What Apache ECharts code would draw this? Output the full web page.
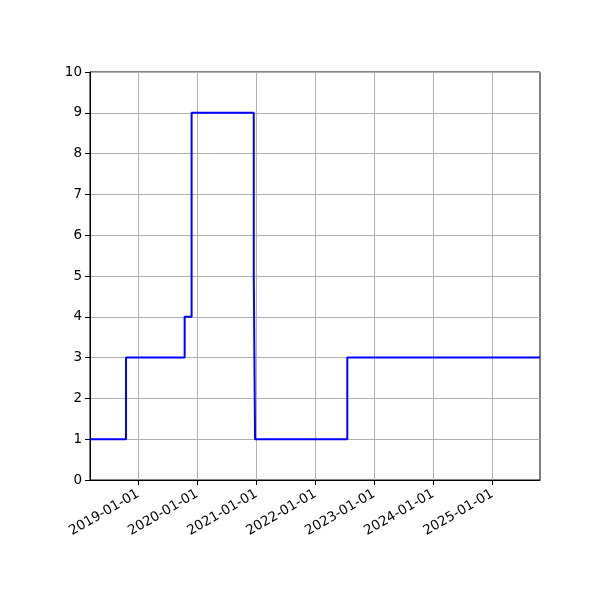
<!DOCTYPE html>
<html>
<head>
<meta charset="utf-8">
<script src="https://cdn.jsdelivr.net/npm/echarts@6/dist/echarts.min.js"></script>
<style>
  html, body { margin: 0; padding: 0; background: #fff; }
  #container { width: 600px; height: 600px; }
</style>
</head>
<body>
<div id="container"></div>
<script>
// step changes
var dates = ["2018-03-08", "2018-10-17", "2019-10-15", "2019-11-27", "2020-12-16", "2020-12-24", "2022-07-18", "2025-10-23"];
var values = [1, 3, 4, 9, 5, 1, 3, 3];
var xTicks = ["2019-01-01", "2020-01-01", "2021-01-01", "2022-01-01", "2023-01-01", "2024-01-01", "2025-01-01"];
var xMin = "2018-03-08";
var xMax = "2025-10-23";

function ms(d) {
  return Date.parse(d + "T00:00:00Z");
}
function pad(n) {
  return n < 10 ? "0" + n : "" + n;
}

var dom = document.getElementById("container");
var myChart = echarts.init(dom);

var points = [];
for (var i = 0; i < dates.length; i++) {
  points.push([ms(dates[i]), values[i]]);
}
var tickTimes = xTicks.map(ms);

var font = "DejaVu Sans";

option = {
  animation: false,
  grid: {
    left: 90, right: 60, top: 72, bottom: 120,
    show: true, borderColor: "#000", borderWidth: 1
  },
  xAxis: {
    type: "value",
    min: ms(xMin),
    max: ms(xMax),
    axisLine: { show: true, lineStyle: { color: "#000", width: 1 } },
    axisTick: { show: true, length: 5, lineStyle: { color: "#000" }, customValues: tickTimes },
    axisLabel: {
      rotate: 30,
      color: "#000",
      fontFamily: font,
      fontSize: 13.5,
      margin: 13,
      customValues: tickTimes,
      formatter: function (v) {
        var d = new Date(v);
        return d.getUTCFullYear() + "-" + pad(d.getUTCMonth() + 1) + "-" + pad(d.getUTCDate());
      }
    },
    splitLine: { show: true, lineStyle: { color: "#b0b0b0", width: 1 } }
  },
  yAxis: {
    type: "value",
    min: 0,
    max: 10,
    interval: 1,
    axisLine: { show: true, lineStyle: { color: "#000", width: 1 } },
    axisTick: { show: true, length: 5, lineStyle: { color: "#000" } },
    axisLabel: { color: "#000", fontFamily: font, fontSize: 13.5, margin: 8 },
    splitLine: { show: true, lineStyle: { color: "#b0b0b0", width: 1 } }
  },
  series: [
    {
      type: "line",
      step: "end",
      data: points,
      showSymbol: false,
      lineStyle: { color: "#0000ff", width: 2 }
    }
  ]
};
if (option && typeof option === "object") {
  myChart.setOption(option, true);
}
</script>
</body>
</html>
